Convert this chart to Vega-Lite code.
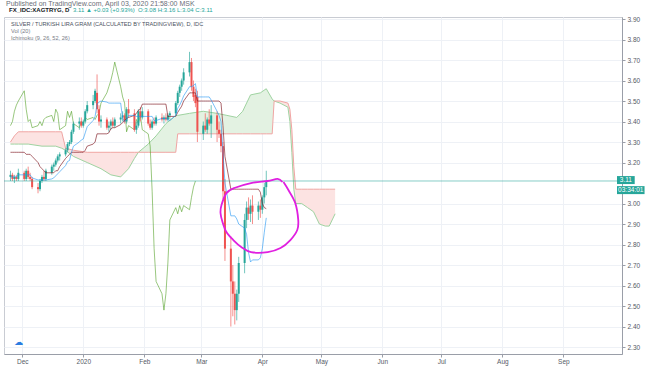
{
"$schema":"https://vega.github.io/schema/vega-lite/v6.json",
"width":618,"height":337,
"autosize":{"type":"none"},
"padding":{"left":4,"top":17,"right":32,"bottom":12},
"background":"#ffffff",
"resolve":{"axis":{"x":"independent","y":"independent"}},
"config":{"font":"Liberation Sans","view":{"stroke":"#c9ccd3","strokeWidth":1},
"axis":{"labelFont":"Liberation Sans","labelFontSize":6.5,"labelColor":"#555a66","domainColor":"#9a9ea8","tickColor":"#9a9ea8","gridColor":"#eef1f6","gridWidth":1,"tickSize":3}},
"datasets":{
"bars":[
{"t":"2019-11-25T00:00","o":3.13,"h":3.16,"l":3.11,"c":3.14,"tk":3.13,"kj":3.25,"ck":3.38},
{"t":"2019-11-26T00:00","o":3.14,"h":3.15,"l":3.11,"c":3.12,"tk":3.13,"kj":3.25,"ck":3.40},
{"t":"2019-11-27T00:00","o":3.12,"h":3.14,"l":3.10,"c":3.13,"tk":3.13,"kj":3.25,"ck":3.45},
{"t":"2019-11-28T00:00","o":3.13,"h":3.14,"l":3.11,"c":3.12,"tk":3.13,"kj":3.25,"ck":3.48},
{"t":"2019-11-29T00:00","o":3.12,"h":3.17,"l":3.11,"c":3.15,"tk":3.14,"kj":3.25,"ck":3.50},
{"t":"2019-12-02T00:00","o":3.15,"h":3.16,"l":3.11,"c":3.12,"tk":3.14,"kj":3.25,"ck":3.55},
{"t":"2019-12-03T00:00","o":3.12,"h":3.17,"l":3.11,"c":3.16,"tk":3.14,"kj":3.24,"ck":3.46},
{"t":"2019-12-04T00:00","o":3.16,"h":3.18,"l":3.12,"c":3.13,"tk":3.14,"kj":3.24,"ck":3.40},
{"t":"2019-12-05T00:00","o":3.13,"h":3.15,"l":3.11,"c":3.12,"tk":3.14,"kj":3.24,"ck":3.41},
{"t":"2019-12-06T00:00","o":3.12,"h":3.13,"l":3.07,"c":3.08,"tk":3.125,"kj":3.23,"ck":3.37},
{"t":"2019-12-09T00:00","o":3.08,"h":3.10,"l":3.05,"c":3.07,"tk":3.115,"kj":3.20,"ck":3.38},
{"t":"2019-12-10T00:00","o":3.07,"h":3.12,"l":3.06,"c":3.11,"tk":3.115,"kj":3.18,"ck":3.40},
{"t":"2019-12-11T00:00","o":3.11,"h":3.14,"l":3.10,"c":3.13,"tk":3.115,"kj":3.17,"ck":3.38},
{"t":"2019-12-12T00:00","o":3.13,"h":3.16,"l":3.11,"c":3.12,"tk":3.115,"kj":3.16,"ck":3.41},
{"t":"2019-12-13T00:00","o":3.12,"h":3.17,"l":3.11,"c":3.16,"tk":3.115,"kj":3.15,"ck":3.42},
{"t":"2019-12-16T00:00","o":3.15,"h":3.19,"l":3.14,"c":3.18,"tk":3.12,"kj":3.15,"ck":3.43},
{"t":"2019-12-17T00:00","o":3.18,"h":3.20,"l":3.16,"c":3.19,"tk":3.125,"kj":3.15,"ck":3.40},
{"t":"2019-12-18T00:00","o":3.19,"h":3.22,"l":3.18,"c":3.21,"tk":3.135,"kj":3.16,"ck":3.46},
{"t":"2019-12-19T00:00","o":3.21,"h":3.24,"l":3.20,"c":3.23,"tk":3.145,"kj":3.16,"ck":3.44},
{"t":"2019-12-20T00:00","o":3.23,"h":3.25,"l":3.21,"c":3.24,"tk":3.155,"kj":3.18,"ck":3.36},
{"t":"2019-12-23T00:00","o":3.24,"h":3.27,"l":3.23,"c":3.26,"tk":3.185,"kj":3.22,"ck":3.38},
{"t":"2019-12-24T00:00","o":3.26,"h":3.30,"l":3.25,"c":3.29,"tk":3.205,"kj":3.23,"ck":3.45},
{"t":"2019-12-25T00:00","o":3.29,"h":3.31,"l":3.28,"c":3.30,"tk":3.21,"kj":3.24,"ck":3.42},
{"t":"2019-12-26T00:00","o":3.30,"h":3.36,"l":3.29,"c":3.35,"tk":3.25,"kj":3.25,"ck":3.45},
{"t":"2019-12-27T00:00","o":3.35,"h":3.40,"l":3.34,"c":3.39,"tk":3.28,"kj":3.25,"ck":3.39},
{"t":"2019-12-30T00:00","o":3.39,"h":3.42,"l":3.36,"c":3.40,"tk":3.30,"kj":3.25,"ck":3.37},
{"t":"2019-12-31T00:00","o":3.40,"h":3.42,"l":3.37,"c":3.38,"tk":3.31,"kj":3.25,"ck":3.40},
{"t":"2020-01-01T00:00","o":3.38,"h":3.41,"l":3.37,"c":3.40,"tk":3.315,"kj":3.25,"ck":3.39},
{"t":"2020-01-02T00:00","o":3.40,"h":3.46,"l":3.39,"c":3.45,"tk":3.345,"kj":3.26,"ck":3.42},
{"t":"2020-01-03T00:00","o":3.45,"h":3.50,"l":3.44,"c":3.48,"tk":3.375,"kj":3.28,"ck":3.41},
{"t":"2020-01-06T00:00","o":3.48,"h":3.53,"l":3.46,"c":3.50,"tk":3.405,"kj":3.29,"ck":3.42},
{"t":"2020-01-07T00:00","o":3.50,"h":3.56,"l":3.49,"c":3.55,"tk":3.425,"kj":3.30,"ck":3.41},
{"t":"2020-01-08T00:00","o":3.54,"h":3.63,"l":3.44,"c":3.46,"tk":3.485,"kj":3.34,"ck":3.43},
{"t":"2020-01-09T00:00","o":3.46,"h":3.48,"l":3.38,"c":3.40,"tk":3.495,"kj":3.34,"ck":3.44},
{"t":"2020-01-10T00:00","o":3.40,"h":3.43,"l":3.37,"c":3.41,"tk":3.50,"kj":3.34,"ck":3.49},
{"t":"2020-01-13T00:00","o":3.41,"h":3.42,"l":3.36,"c":3.37,"tk":3.495,"kj":3.34,"ck":3.54},
{"t":"2020-01-14T00:00","o":3.37,"h":3.40,"l":3.35,"c":3.38,"tk":3.49,"kj":3.345,"ck":3.57},
{"t":"2020-01-15T00:00","o":3.38,"h":3.41,"l":3.36,"c":3.40,"tk":3.49,"kj":3.365,"ck":3.60},
{"t":"2020-01-16T00:00","o":3.40,"h":3.42,"l":3.37,"c":3.38,"tk":3.49,"kj":3.37,"ck":3.64},
{"t":"2020-01-17T00:00","o":3.38,"h":3.42,"l":3.37,"c":3.41,"tk":3.49,"kj":3.37,"ck":3.69},
{"t":"2020-01-20T00:00","o":3.41,"h":3.44,"l":3.39,"c":3.42,"tk":3.49,"kj":3.385,"ck":3.57},
{"t":"2020-01-21T00:00","o":3.42,"h":3.45,"l":3.40,"c":3.43,"tk":3.415,"kj":3.395,"ck":3.52},
{"t":"2020-01-22T00:00","o":3.43,"h":3.44,"l":3.39,"c":3.40,"tk":3.40,"kj":3.405,"ck":3.49},
{"t":"2020-01-23T00:00","o":3.40,"h":3.47,"l":3.39,"c":3.46,"tk":3.41,"kj":3.415,"ck":3.35},
{"t":"2020-01-24T00:00","o":3.46,"h":3.51,"l":3.42,"c":3.44,"tk":3.43,"kj":3.42,"ck":3.38},
{"t":"2020-01-27T00:00","o":3.44,"h":3.46,"l":3.35,"c":3.36,"tk":3.43,"kj":3.43,"ck":3.36},
{"t":"2020-01-28T00:00","o":3.36,"h":3.40,"l":3.34,"c":3.38,"tk":3.425,"kj":3.44,"ck":3.41},
{"t":"2020-01-29T00:00","o":3.38,"h":3.46,"l":3.37,"c":3.45,"tk":3.425,"kj":3.455,"ck":3.39},
{"t":"2020-01-30T00:00","o":3.45,"h":3.47,"l":3.40,"c":3.42,"tk":3.425,"kj":3.46,"ck":3.43},
{"t":"2020-01-31T00:00","o":3.42,"h":3.47,"l":3.41,"c":3.45,"tk":3.425,"kj":3.485,"ck":3.36},
{"t":"2020-02-03T00:00","o":3.45,"h":3.46,"l":3.38,"c":3.39,"tk":3.425,"kj":3.485,"ck":3.34},
{"t":"2020-02-04T00:00","o":3.39,"h":3.41,"l":3.36,"c":3.37,"tk":3.425,"kj":3.485,"ck":3.28},
{"t":"2020-02-05T00:00","o":3.37,"h":3.41,"l":3.36,"c":3.40,"tk":3.425,"kj":3.485,"ck":3.06},
{"t":"2020-02-06T00:00","o":3.40,"h":3.42,"l":3.38,"c":3.39,"tk":3.405,"kj":3.485,"ck":2.78},
{"t":"2020-02-07T00:00","o":3.39,"h":3.43,"l":3.38,"c":3.42,"tk":3.405,"kj":3.485,"ck":2.62},
{"t":"2020-02-10T00:00","o":3.42,"h":3.44,"l":3.40,"c":3.41,"tk":3.415,"kj":3.485,"ck":2.56},
{"t":"2020-02-11T00:00","o":3.41,"h":3.43,"l":3.39,"c":3.42,"tk":3.415,"kj":3.485,"ck":2.48},
{"t":"2020-02-12T00:00","o":3.42,"h":3.44,"l":3.40,"c":3.41,"tk":3.415,"kj":3.485,"ck":2.56},
{"t":"2020-02-13T00:00","o":3.41,"h":3.44,"l":3.40,"c":3.43,"tk":3.41,"kj":3.425,"ck":2.71},
{"t":"2020-02-14T00:00","o":3.43,"h":3.45,"l":3.41,"c":3.44,"tk":3.405,"kj":3.425,"ck":2.92},
{"t":"2020-02-17T00:00","o":3.44,"h":3.50,"l":3.43,"c":3.49,"tk":3.43,"kj":3.425,"ck":2.98},
{"t":"2020-02-18T00:00","o":3.49,"h":3.55,"l":3.48,"c":3.54,"tk":3.465,"kj":3.445,"ck":2.95},
{"t":"2020-02-19T00:00","o":3.54,"h":3.58,"l":3.52,"c":3.57,"tk":3.48,"kj":3.46,"ck":2.99},
{"t":"2020-02-20T00:00","o":3.57,"h":3.61,"l":3.55,"c":3.60,"tk":3.50,"kj":3.475,"ck":2.96},
{"t":"2020-02-21T00:00","o":3.60,"h":3.66,"l":3.58,"c":3.64,"tk":3.525,"kj":3.50,"ck":2.99},
{"t":"2020-02-24T00:00","o":3.64,"h":3.74,"l":3.62,"c":3.69,"tk":3.57,"kj":3.54,"ck":2.97},
{"t":"2020-02-25T00:00","o":3.69,"h":3.71,"l":3.55,"c":3.57,"tk":3.57,"kj":3.54,"ck":3.03},
{"t":"2020-02-26T00:00","o":3.57,"h":3.60,"l":3.50,"c":3.52,"tk":3.575,"kj":3.54,"ck":3.08},
{"t":"2020-02-27T00:00","o":3.53,"h":3.56,"l":3.47,"c":3.49,"tk":3.585,"kj":3.54,"ck":3.11},
{"t":"2020-02-28T00:00","o":3.52,"h":3.55,"l":3.30,"c":3.35,"tk":3.52,"kj":3.50},
{"t":"2020-03-02T00:00","o":3.34,"h":3.40,"l":3.31,"c":3.38,"tk":3.52,"kj":3.50},
{"t":"2020-03-03T00:00","o":3.38,"h":3.44,"l":3.35,"c":3.36,"tk":3.52,"kj":3.50},
{"t":"2020-03-04T00:00","o":3.36,"h":3.42,"l":3.34,"c":3.41,"tk":3.52,"kj":3.50},
{"t":"2020-03-05T00:00","o":3.41,"h":3.46,"l":3.38,"c":3.39,"tk":3.52,"kj":3.50},
{"t":"2020-03-06T00:00","o":3.39,"h":3.48,"l":3.32,"c":3.43,"tk":3.505,"kj":3.50},
{"t":"2020-03-09T00:00","o":3.43,"h":3.45,"l":3.30,"c":3.36,"tk":3.45,"kj":3.50},
{"t":"2020-03-10T00:00","o":3.36,"h":3.40,"l":3.32,"c":3.34,"tk":3.43,"kj":3.50},
{"t":"2020-03-11T00:00","o":3.34,"h":3.36,"l":3.25,"c":3.28,"tk":3.40,"kj":3.49},
{"t":"2020-03-12T00:00","o":3.28,"h":3.30,"l":3.02,"c":3.06,"tk":3.25,"kj":3.38},
{"t":"2020-03-13T00:00","o":3.06,"h":3.12,"l":2.72,"c":2.78,"tk":3.10,"kj":3.23},
{"t":"2020-03-16T00:00","o":2.78,"h":2.84,"l":2.40,"c":2.62,"tk":2.94,"kj":3.07},
{"t":"2020-03-17T00:00","o":2.62,"h":2.70,"l":2.45,"c":2.56,"tk":2.94,"kj":3.07},
{"t":"2020-03-18T00:00","o":2.56,"h":2.62,"l":2.41,"c":2.48,"tk":2.94,"kj":3.07},
{"t":"2020-03-19T00:00","o":2.48,"h":2.58,"l":2.43,"c":2.56,"tk":2.925,"kj":3.07},
{"t":"2020-03-20T00:00","o":2.56,"h":2.74,"l":2.52,"c":2.71,"tk":2.90,"kj":3.07},
{"t":"2020-03-23T00:00","o":2.71,"h":2.95,"l":2.66,"c":2.92,"tk":2.88,"kj":3.07},
{"t":"2020-03-24T00:00","o":2.92,"h":3.01,"l":2.88,"c":2.98,"tk":2.85,"kj":3.07},
{"t":"2020-03-25T00:00","o":2.98,"h":3.03,"l":2.92,"c":2.95,"tk":2.76,"kj":3.07},
{"t":"2020-03-26T00:00","o":2.95,"h":3.02,"l":2.91,"c":2.99,"tk":2.715,"kj":3.07},
{"t":"2020-03-27T00:00","o":2.99,"h":3.04,"l":2.90,"c":2.96,"tk":2.725,"kj":3.07},
{"t":"2020-03-30T00:00","o":2.96,"h":3.01,"l":2.92,"c":2.99,"tk":2.725,"kj":3.07},
{"t":"2020-03-31T00:00","o":2.99,"h":3.02,"l":2.93,"c":2.97,"tk":2.735,"kj":3.055},
{"t":"2020-04-01T00:00","o":2.97,"h":3.04,"l":2.95,"c":3.03,"tk":2.78,"kj":3.00},
{"t":"2020-04-02T00:00","o":3.03,"h":3.10,"l":3.00,"c":3.08,"tk":2.86,"kj":2.98},
{"t":"2020-04-03T00:00","o":3.08,"h":3.16,"l":3.04,"c":3.11,"tk":2.93,"kj":2.975}
],
"cloud":[
{"t":"2019-11-25T00:00","a":3.29,"b":3.30,"seg":1,"kind":"bear"},
{"t":"2019-11-27T00:00","a":3.29,"b":3.33,"seg":1,"kind":"bear"},
{"t":"2019-11-29T00:00","a":3.29,"b":3.35,"seg":1,"kind":"bear"},
{"t":"2019-12-04T00:00","a":3.29,"b":3.35,"seg":1,"kind":"bear"},
{"t":"2019-12-11T00:00","a":3.28,"b":3.35,"seg":1,"kind":"bear"},
{"t":"2019-12-18T00:00","a":3.28,"b":3.35,"seg":1,"kind":"bear"},
{"t":"2019-12-21T00:00","a":3.27,"b":3.35,"seg":1,"kind":"bear"},
{"t":"2019-12-23T00:00","a":3.26,"b":3.27,"seg":1,"kind":"bear"},
{"t":"2019-12-27T00:00","a":3.23,"b":3.26,"seg":1,"kind":"bear"},
{"t":"2020-01-03T00:00","a":3.20,"b":3.25,"seg":1,"kind":"bear"},
{"t":"2020-01-10T00:00","a":3.17,"b":3.25,"seg":1,"kind":"bear"},
{"t":"2020-01-15T00:00","a":3.14,"b":3.25,"seg":1,"kind":"bear"},
{"t":"2020-01-20T00:00","a":3.13,"b":3.25,"seg":1,"kind":"bear"},
{"t":"2020-01-24T00:00","a":3.17,"b":3.25,"seg":1,"kind":"bear"},
{"t":"2020-01-27T00:00","a":3.22,"b":3.25,"seg":1,"kind":"bear"},
{"t":"2020-01-29T00:00","a":3.25,"b":3.25,"seg":1,"kind":"bear"},
{"t":"2020-01-29T00:00","a":3.25,"b":3.25,"seg":2,"kind":"bull"},
{"t":"2020-02-03T00:00","a":3.29,"b":3.25,"seg":2,"kind":"bull"},
{"t":"2020-02-07T00:00","a":3.33,"b":3.25,"seg":2,"kind":"bull"},
{"t":"2020-02-12T00:00","a":3.39,"b":3.25,"seg":2,"kind":"bull"},
{"t":"2020-02-17T00:00","a":3.43,"b":3.25,"seg":2,"kind":"bull"},
{"t":"2020-02-18T00:00","a":3.43,"b":3.34,"seg":2,"kind":"bull"},
{"t":"2020-02-24T00:00","a":3.44,"b":3.34,"seg":2,"kind":"bull"},
{"t":"2020-03-02T00:00","a":3.45,"b":3.34,"seg":2,"kind":"bull"},
{"t":"2020-03-09T00:00","a":3.44,"b":3.34,"seg":2,"kind":"bull"},
{"t":"2020-03-14T00:00","a":3.43,"b":3.34,"seg":2,"kind":"bull"},
{"t":"2020-03-19T00:00","a":3.42,"b":3.34,"seg":2,"kind":"bull"},
{"t":"2020-03-22T00:00","a":3.45,"b":3.34,"seg":2,"kind":"bull"},
{"t":"2020-03-26T00:00","a":3.53,"b":3.34,"seg":2,"kind":"bull"},
{"t":"2020-03-31T00:00","a":3.54,"b":3.34,"seg":2,"kind":"bull"},
{"t":"2020-04-03T00:00","a":3.56,"b":3.34,"seg":2,"kind":"bull"},
{"t":"2020-04-06T00:00","a":3.51,"b":3.34,"seg":2,"kind":"bull"},
{"t":"2020-04-07T00:00","a":3.50,"b":3.50,"seg":2,"kind":"bull"},
{"t":"2020-04-07T00:00","a":3.50,"b":3.50,"seg":3,"kind":"bear"},
{"t":"2020-04-10T00:00","a":3.49,"b":3.50,"seg":3,"kind":"bear"},
{"t":"2020-04-14T00:00","a":3.47,"b":3.49,"seg":3,"kind":"bear"},
{"t":"2020-04-15T00:00","a":3.40,"b":3.46,"seg":3,"kind":"bear"},
{"t":"2020-04-16T00:00","a":3.25,"b":3.36,"seg":3,"kind":"bear"},
{"t":"2020-04-17T00:00","a":3.07,"b":3.18,"seg":3,"kind":"bear"},
{"t":"2020-04-18T00:00","a":3.00,"b":3.07,"seg":3,"kind":"bear"},
{"t":"2020-04-21T00:00","a":3.00,"b":3.07,"seg":3,"kind":"bear"},
{"t":"2020-04-24T00:00","a":2.98,"b":3.07,"seg":3,"kind":"bear"},
{"t":"2020-04-27T00:00","a":2.96,"b":3.07,"seg":3,"kind":"bear"},
{"t":"2020-04-30T00:00","a":2.90,"b":3.07,"seg":3,"kind":"bear"},
{"t":"2020-05-03T00:00","a":2.89,"b":3.07,"seg":3,"kind":"bear"},
{"t":"2020-05-05T00:00","a":2.89,"b":3.07,"seg":3,"kind":"bear"},
{"t":"2020-05-08T00:00","a":2.95,"b":3.07,"seg":3,"kind":"bear"}
],
"ellipse":[
{"t":"2020-04-11T06:00","p":3.105,"i":1},
{"t":"2020-04-08T18:00","p":3.120,"i":2},
{"t":"2020-04-03T18:00","p":3.110,"i":3},
{"t":"2020-03-26T06:00","p":3.100,"i":4},
{"t":"2020-03-17T18:00","p":3.076,"i":5},
{"t":"2020-03-13T18:00","p":3.051,"i":6},
{"t":"2020-03-11T06:00","p":2.993,"i":7},
{"t":"2020-03-10T18:00","p":2.954,"i":8},
{"t":"2020-03-11T18:00","p":2.910,"i":9},
{"t":"2020-03-13T18:00","p":2.861,"i":10},
{"t":"2020-03-17T06:00","p":2.822,"i":11},
{"t":"2020-03-21T06:00","p":2.788,"i":12},
{"t":"2020-03-26T06:00","p":2.763,"i":13},
{"t":"2020-04-03T18:00","p":2.763,"i":14},
{"t":"2020-04-10T06:00","p":2.783,"i":15},
{"t":"2020-04-15T06:00","p":2.822,"i":16},
{"t":"2020-04-18T18:00","p":2.871,"i":17},
{"t":"2020-04-19T06:00","p":2.920,"i":18},
{"t":"2020-04-17T18:00","p":3.002,"i":19},
{"t":"2020-04-14T06:00","p":3.066,"i":20},
{"t":"2020-04-11T18:00","p":3.105,"i":21}
]
},
"layer":[
{"data":{"name":"cloud"},"mark":{"type":"area","opacity":1},
"encoding":{
"x":{"field":"t","type":"temporal","scale":{"domain":[{"year":2019,"month":11,"date":24,"hours":6},{"year":2020,"month":9,"date":28,"hours":6}]},
"axis":{"orient":"bottom","title":null,"grid":true,"tickSize":3,"labelPadding":1,"labelFontSize":6.5,
"values":[{"year":2019,"month":12,"date":1},{"year":2020,"month":1,"date":1},{"year":2020,"month":2,"date":1},{"year":2020,"month":3,"date":1},{"year":2020,"month":4,"date":1},{"year":2020,"month":5,"date":1},{"year":2020,"month":6,"date":1},{"year":2020,"month":7,"date":1},{"year":2020,"month":8,"date":1},{"year":2020,"month":9,"date":1}],
"labelExpr":"month(datum.value) == 0 ? timeFormat(datum.value, '%Y') : timeFormat(datum.value, '%b')"}},
"y":{"field":"a","type":"quantitative","scale":{"domain":[2.266,3.91],"nice":false,"zero":false},
"axis":{"orient":"right","title":null,"grid":true,"tickSize":3,"labelPadding":2,"format":".2f","labelFontSize":6.5,
"values":[2.3,2.4,2.5,2.6,2.7,2.8,2.9,3.0,3.2,3.3,3.4,3.5,3.6,3.7,3.8,3.9]}},
"y2":{"field":"b"},
"color":{"field":"kind","type":"nominal","scale":{"domain":["bear","bull"],"range":["#fce3e2","#e3f2e2"]},"legend":null},
"detail":{"field":"seg","type":"nominal"}}},
{"data":{"name":"cloud"},"mark":{"type":"line","strokeWidth":1,"color":"#9fd3a1"},
"encoding":{"x":{"field":"t","type":"temporal","axis":null},"y":{"field":"a","type":"quantitative","axis":null}}},
{"data":{"name":"cloud"},"mark":{"type":"line","strokeWidth":1,"color":"#f0a5a3"},
"encoding":{"x":{"field":"t","type":"temporal","axis":null},"y":{"field":"b","type":"quantitative","axis":null}}},
{"data":{"name":"bars"},"mark":{"type":"line","strokeWidth":1,"color":"#459915","opacity":0.55},
"encoding":{"x":{"field":"t","type":"temporal","axis":null},"y":{"field":"ck","type":"quantitative","axis":null}}},
{"data":{"name":"bars"},"mark":{"type":"rule","strokeWidth":1,"opacity":0.65},
"encoding":{"x":{"field":"t","type":"temporal","axis":null},"y":{"field":"l","type":"quantitative","axis":null},"y2":{"field":"h"},
"color":{"condition":{"test":"datum.c >= datum.o","value":"#26a69a"},"value":"#ef5350"}}},
{"data":{"name":"bars"},"mark":{"type":"bar","size":2},
"encoding":{"x":{"field":"t","type":"temporal","axis":null},"y":{"field":"o","type":"quantitative","axis":null},"y2":{"field":"c"},
"color":{"condition":{"test":"datum.c >= datum.o","value":"#26a69a"},"value":"#ef5350"}}},
{"data":{"name":"bars"},"mark":{"type":"line","strokeWidth":1,"color":"#801922","opacity":0.65},
"encoding":{"x":{"field":"t","type":"temporal","axis":null},"y":{"field":"kj","type":"quantitative","axis":null}}},
{"data":{"name":"bars"},"mark":{"type":"line","strokeWidth":1,"color":"#2196f3","opacity":0.6},
"encoding":{"x":{"field":"t","type":"temporal","axis":null},"y":{"field":"tk","type":"quantitative","axis":null}}},
{"data":{"values":[{}]},"mark":{"type":"rule","strokeWidth":1,"color":"#26a69a","opacity":0.55},
"encoding":{"y":{"datum":3.11,"type":"quantitative","axis":null}}},
{"data":{"name":"ellipse"},"mark":{"type":"line","strokeWidth":1.8,"color":"#e01fe0","interpolate":"cardinal"},
"encoding":{"x":{"field":"t","type":"temporal","axis":null},"y":{"field":"p","type":"quantitative","axis":null},"order":{"field":"i","type":"quantitative"}}},
{"data":{"values":[{}]},"mark":{"type":"rect","color":"#26a69a"},
"encoding":{"x":{"datum":{"year":2020,"month":9,"date":28,"hours":6},"type":"temporal","axis":null},"x2":{"datum":{"year":2020,"month":10,"date":7,"hours":6}},
"y":{"datum":3.134,"type":"quantitative","axis":null},"y2":{"datum":3.095}}},
{"data":{"values":[{}]},"mark":{"type":"rect","color":"#26a69a"},
"encoding":{"x":{"datum":{"year":2020,"month":9,"date":28,"hours":6},"type":"temporal","axis":null},"x2":{"datum":{"year":2020,"month":10,"date":12,"hours":6}},
"y":{"datum":3.085,"type":"quantitative","axis":null},"y2":{"datum":3.046}}},
{"data":{"values":[{}]},"mark":{"type":"text","text":"3.11","color":"#ffffff","fontSize":6.5,"align":"center","baseline":"middle"},
"encoding":{"x":{"datum":{"year":2020,"month":10,"date":2,"hours":18},"type":"temporal","axis":null},"y":{"datum":3.1145,"type":"quantitative","axis":null}}},
{"data":{"values":[{}]},"mark":{"type":"text","text":"03:34:01","color":"#ffffff","fontSize":6.5,"align":"center","baseline":"middle"},
"encoding":{"x":{"datum":{"year":2020,"month":10,"date":5,"hours":6},"type":"temporal","axis":null},"y":{"datum":3.0655,"type":"quantitative","axis":null}}},
{"data":{"values":[{}]},"mark":{"type":"text","text":"☁","color":"#2a7de1","fontSize":9,"align":"center","baseline":"middle","font":"DejaVu Sans"},
"encoding":{"x":{"datum":{"year":2019,"month":11,"date":29,"hours":6},"type":"temporal","axis":null},"y":{"datum":2.325,"type":"quantitative","axis":null}}},
{"data":{"values":[{}]},"mark":{"type":"text","text":"Published on TradingView.com, April 03, 2020 21:58:00 MSK","color":"#6b6e78","fontSize":7,"align":"left","baseline":"middle","dx":-3},
"encoding":{"x":{"datum":{"year":2019,"month":11,"date":24,"hours":6},"type":"temporal","axis":null},"y":{"datum":3.973,"type":"quantitative","axis":null}}},
{"data":{"values":[{}]},"mark":{"type":"text","text":"FX_IDC:XAGTRYG, D","color":"#131722","fontSize":6,"fontWeight":"bold","align":"left","baseline":"middle"},
"encoding":{"x":{"datum":{"year":2019,"month":11,"date":24,"hours":6},"type":"temporal","axis":null},"y":{"datum":3.945,"type":"quantitative","axis":null}}},
{"data":{"values":[{}]},"mark":{"type":"text","text":"3.11 ▲ +0.03 (+0.93%)","color":"#26a69a","fontSize":6,"align":"left","baseline":"middle","dx":64},
"encoding":{"x":{"datum":{"year":2019,"month":11,"date":24,"hours":6},"type":"temporal","axis":null},"y":{"datum":3.945,"type":"quantitative","axis":null}}},
{"data":{"values":[{}]},"mark":{"type":"text","text":"O:3.08 H:3.16 L:3.04 C:3.11","color":"#26a69a","fontSize":6,"align":"left","baseline":"middle","dx":129},
"encoding":{"x":{"datum":{"year":2019,"month":11,"date":24,"hours":6},"type":"temporal","axis":null},"y":{"datum":3.945,"type":"quantitative","axis":null}}},
{"data":{"values":[{}]},"mark":{"type":"text","text":"SILVER / TURKISH LIRA GRAM (CALCULATED BY TRADINGVIEW), D, IDC","color":"#4c525e","fontSize":5.6,"align":"left","baseline":"middle","dx":2},
"encoding":{"x":{"datum":{"year":2019,"month":11,"date":24,"hours":6},"type":"temporal","axis":null},"y":{"datum":3.876,"type":"quantitative","axis":null}}},
{"data":{"values":[{}]},"mark":{"type":"text","text":"Vol (20)","color":"#787b86","fontSize":5.6,"align":"left","baseline":"middle","dx":2},
"encoding":{"x":{"datum":{"year":2019,"month":11,"date":24,"hours":6},"type":"temporal","axis":null},"y":{"datum":3.8417,"type":"quantitative","axis":null}}},
{"data":{"values":[{}]},"mark":{"type":"text","text":"Ichimoku (9, 26, 52, 26)","color":"#787b86","fontSize":5.6,"align":"left","baseline":"middle","dx":2},
"encoding":{"x":{"datum":{"year":2019,"month":11,"date":24,"hours":6},"type":"temporal","axis":null},"y":{"datum":3.8076,"type":"quantitative","axis":null}}}
]
}
